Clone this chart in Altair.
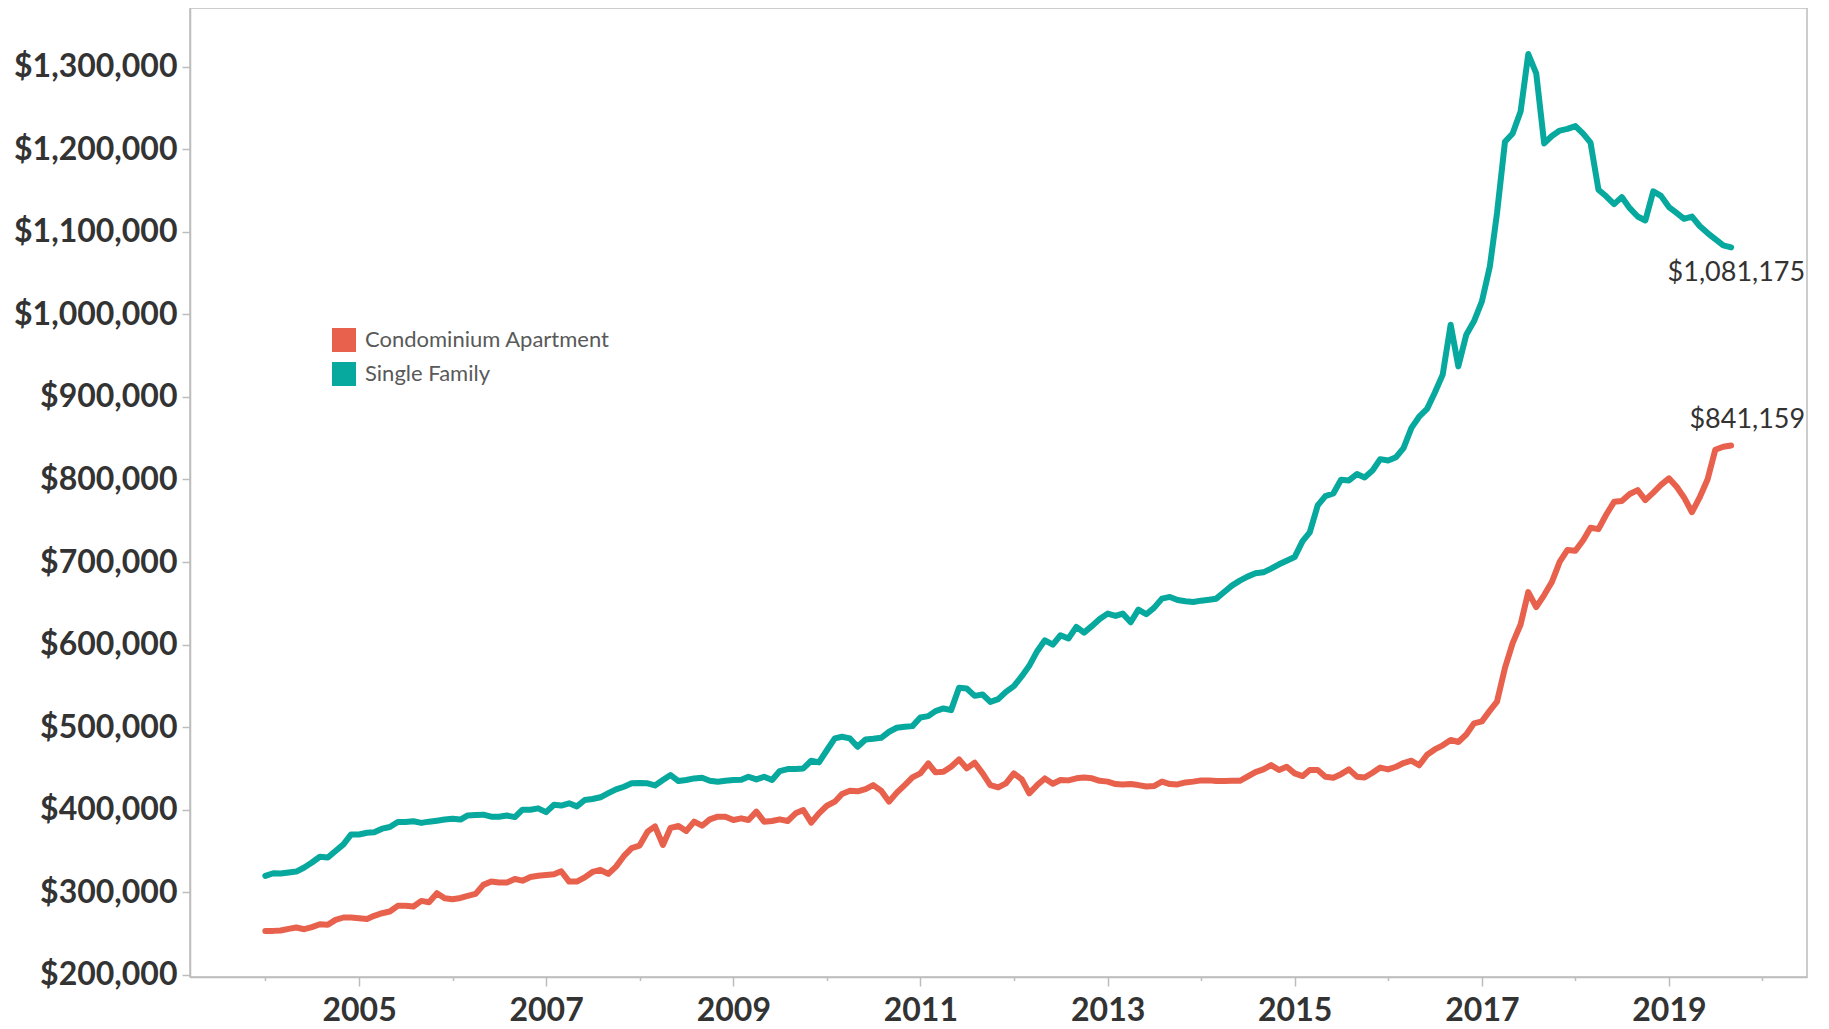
import altair as alt
import pandas as pd

# ---------------- data ----------------
months = pd.date_range("2004-01-01", periods=189, freq="MS").strftime("%Y-%m-%dT00:00:00").tolist()

condo = [
    253200, 253200, 253600, 255600, 257300, 255200, 257700, 261300, 260500, 266500, 269400, 269400,
    268500, 267700, 271400, 274600, 276600, 283500, 283500, 282700, 289500, 287900, 298800, 292700,
    291500, 293100, 295600, 298000, 308900, 312900, 311700, 311700, 316000, 314000, 318500, 320000,
    321000, 321800, 325400, 312900, 312900, 318000, 324600, 327000, 322200, 331000, 344000, 353500,
    356500, 373400, 379800, 357300, 378000, 380200, 374200, 385500, 380600, 388300, 391500, 391500,
    387500, 389500, 387500, 397600, 385500, 386300, 388300, 386300, 395600, 399600, 384300, 395600,
    404800, 409700, 419000, 423000, 422200, 425000, 429800, 423000, 409700, 420600, 429800, 439100,
    444000, 456000, 445200, 446000, 452000, 460900, 450000, 456900, 444000, 429800, 427000, 431900,
    444000, 436700, 419800, 429800, 437900, 431500, 436000, 435500, 438000, 439000, 438000, 435000,
    434000, 431000, 430600, 431000, 429800, 428000, 428600, 434000, 431000, 430600, 433000, 434000,
    435500, 435500, 434700, 434700, 435000, 435000, 440000, 445600, 448800, 454000, 448000, 452000,
    444000, 440700, 448000, 448000, 440000, 438700, 443000, 448800, 440000, 439000, 444800, 451000,
    448800, 452000, 456500, 459300, 453800, 466500, 473000, 478000, 484500, 482000, 491000, 504500,
    507000, 520000, 531000, 571700, 601700, 624300, 663600, 645300, 660000, 675700, 700400, 714600,
    713600, 726700, 741400, 739800, 757200, 772900, 774000, 782400, 787100, 775000, 784000, 793400,
    801300, 790800, 778200, 760300, 778200, 800200, 835900, 839600, 841159,
]

single_family = [
    319800, 323000, 322600, 324000, 325000, 330000, 336000, 343000, 342000, 350000, 358000, 370000,
    370000, 372000, 372600, 377000, 379000, 385000, 385000, 386000, 384000, 385500, 386700, 388000,
    389000, 388000, 393000, 393500, 394000, 391500, 391500, 393000, 391000, 400000, 400000, 401600,
    397000, 406000, 405000, 407700, 404000, 411700, 413000, 415000, 420000, 424600, 427800, 431900,
    432300, 431900, 429400, 435900, 441900, 434700, 435900, 437900, 438700, 435100, 433900, 435100,
    435900, 436300, 439900, 436700, 439900, 435900, 446800, 449200, 449200, 450000, 459300, 457300,
    472000, 486300, 488300, 486300, 476200, 485100, 485900, 487100, 494400, 499200, 500400, 501200,
    511700, 513300, 519400, 522600, 520600, 547600, 546800, 537900, 539500, 530600, 533900, 542700,
    549600, 561700, 574200, 592000, 605200, 600000, 611300, 607300, 621400, 614500, 622600, 631000,
    637500, 634700, 637500, 627000, 642300, 636700, 644400, 655600, 657700, 654000, 652400, 651600,
    653200, 654400, 655600, 663700, 671400, 677400, 682300, 686300, 687500, 692000, 697200, 701600,
    706000, 725400, 735900, 768500, 779800, 783000, 799600, 798800, 806500, 802400, 810900, 824600,
    823000, 827000, 838000, 862500, 876000, 885500, 905000, 927000, 987500, 937000, 975400, 991500,
    1015700, 1058000, 1122600, 1209000, 1219000, 1245600, 1315300, 1292000, 1207000, 1216000, 1222600, 1224600,
    1228000, 1218500, 1208000, 1151000, 1143000, 1133500, 1142000, 1128600, 1118500, 1113700, 1149000, 1143500,
    1130000, 1122600, 1115700, 1118500, 1107000, 1098400, 1091000, 1083500, 1081175,
]

series_names = ["Condominium Apartment", "Single Family"]
series_colors = ["#E8614C", "#07A89D"]
year_ticks = list(range(2004, 2021))
price_ticks = list(range(200000, 1300001, 100000))

df = pd.DataFrame({
    "date": months * 2,
    "type": [series_names[0]] * len(condo) + [series_names[1]] * len(single_family),
    "price": condo + single_family,
})

label_df = pd.DataFrame({
    "date": [months[-1], months[-1]],
    "type": series_names,
    "series": series_names,
    "price": [condo[-1], single_family[-1]],
})

# ---------------- scales & axes ----------------
GRAY = "#bdbdbd"
x_scale = alt.Scale(domain=[alt.DateTime(year=2003, month=3, date=13),
                            alt.DateTime(year=2020, month=6, date=23)], nice=False)
y_scale = alt.Scale(domain=[197330, 1371070], nice=False, zero=False)

x_axis = alt.Axis(
    values=[alt.DateTime(year=y, month=1, date=1) for y in year_ticks],
    format="%Y",
    labelExpr="year(datum.value) % 2 == 1 ? datum.label : ''",
    title=None, grid=False,
    tickSize={"condition": {"test": "year(datum.value) % 2 == 1", "value": 9}, "value": 3.5},
    tickColor=GRAY, domainColor=GRAY,
    labelFont="Lato", labelFontSize=32, labelFontWeight="bold", labelColor="#333333",
    labelBaseline="alphabetic", labelPadding=34, labelOverlap=False,
)
y_axis = alt.Axis(
    values=price_ticks, format="$,.0f", title=None, grid=False,
    tickSize=8, tickColor=GRAY, domainColor=GRAY, labelPadding=5,
    labelFont="Lato", labelFontSize=32, labelFontWeight="bold", labelColor="#333333",
)

X = alt.X("date:T", scale=x_scale, axis=x_axis)
Y = alt.Y("price:Q", scale=y_scale, axis=y_axis)

lines = alt.Chart(df).mark_line(strokeWidth=6, strokeCap="round", strokeJoin="round").encode(
    x=X, y=Y,
    color=alt.Color("type:N", scale=alt.Scale(domain=series_names, range=series_colors), legend=None),
    detail="type:N",
)

# invisible marks that only carry the (filled-square) legend; data-driven domain
# (sorted: Condominium Apartment, Single Family) so it is not merged with the line colour scale
legend_layer = alt.Chart(label_df).mark_square(opacity=0).encode(
    x=X, y=Y,
    fill=alt.Fill("series:N", scale=alt.Scale(range=series_colors),
                  legend=alt.Legend(
                      title=None, orient="none", legendX=142, legendY=320,
                      symbolType="square", symbolSize=576, symbolStrokeWidth=0, symbolOpacity=1,
                      labelFont="Lato", labelFontSize=22, labelColor="#595959", labelLimit=500,
                      labelOffset=9, rowPadding=10, padding=0,
                  )),
)

label_sf = alt.Chart(label_df).mark_text(
    font="Lato", fontSize=27, color="#333333", align="right", baseline="alphabetic", dx=74, dy=34
).encode(x=X, y=Y, text=alt.Text("price:Q", format="$,.0f")).transform_filter(
    alt.datum.type == series_names[1])
label_condo = alt.Chart(label_df).mark_text(
    font="Lato", fontSize=27, color="#333333", align="right", baseline="alphabetic", dx=74, dy=-17
).encode(x=X, y=Y, text=alt.Text("price:Q", format="$,.0f")).transform_filter(
    alt.datum.type == series_names[0])

chart = alt.layer(lines, legend_layer, label_sf, label_condo).properties(
    width=1617, height=969,
    autosize=alt.AutoSizeParams(type="none"),
    padding={"left": 182, "top": 0, "right": 10, "bottom": 50},
).configure(font="Lato").configure_view(
    stroke=GRAY, strokeWidth=1.5
).configure_axis(domainWidth=1.5, tickWidth=1.5)

chart.save("out.html", embed_options={"renderer": "svg", "actions": False})
